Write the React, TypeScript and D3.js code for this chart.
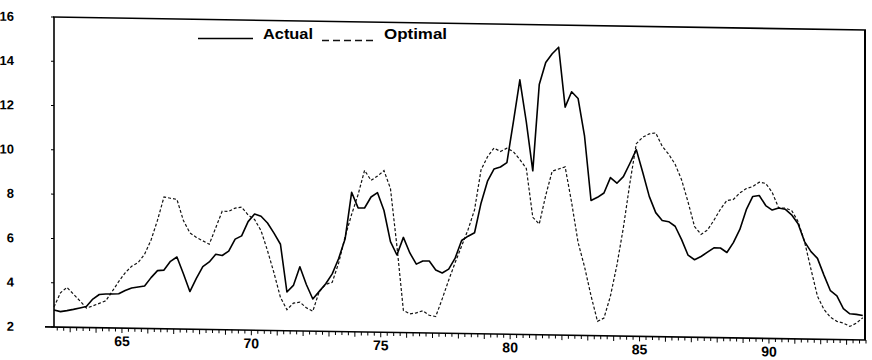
import React from 'react';
import * as d3 from 'd3';

const START_YEAR = 62.375;
const STEP = 0.25;

const actual = [
  2.77, 2.70, 2.75, 2.81, 2.88, 2.95, 3.29, 3.50, 3.53, 3.53,
  3.55, 3.70, 3.82, 3.87, 3.92, 4.30, 4.62, 4.65, 5.05, 5.25,
  4.50, 3.70, 4.30, 4.83, 5.05, 5.40, 5.35, 5.55, 6.10, 6.25,
  6.90, 7.25, 7.15, 6.85, 6.40, 5.90, 3.75, 4.05, 4.90, 4.10,
  3.45, 3.80, 4.15, 4.60, 5.30, 6.20, 8.30, 7.60, 7.60, 8.10,
  8.30, 7.50, 6.10, 5.50, 6.30, 5.60, 5.10, 5.25, 5.25, 4.85,
  4.72, 4.90, 5.40, 6.20, 6.40, 6.56, 7.90, 8.90, 9.45, 9.55,
  9.75, 11.6, 13.5, 11.6, 9.40, 13.3, 14.3, 14.7, 15.0, 12.3,
  13.0, 12.7, 11.0, 8.10, 8.25, 8.45, 9.15, 8.90, 9.20, 9.80,
  10.43, 9.40, 8.33, 7.60, 7.25, 7.20, 7.00, 6.40, 5.70, 5.50,
  5.65, 5.85, 6.05, 6.05, 5.85, 6.30, 6.90, 7.80, 8.40, 8.45,
  8.00, 7.80, 7.90, 7.85, 7.60, 7.20, 6.40, 5.95, 5.65, 4.90,
  4.20, 3.97, 3.40, 3.17, 3.15, 3.10,
];

const optimal = [
  2.90, 3.55, 3.80, 3.50, 3.20, 2.88, 2.98, 3.10, 3.22, 3.65,
  4.10, 4.50, 4.80, 4.97, 5.35, 6.00, 6.90, 7.95, 7.90, 7.85,
  6.90, 6.35, 6.15, 6.00, 5.85, 6.60, 7.35, 7.35, 7.50, 7.55,
  7.20, 7.00, 6.50, 5.60, 4.60, 3.50, 2.95, 3.25, 3.30, 3.05,
  2.90, 3.80, 4.12, 4.22, 5.10, 6.30, 7.30, 8.20, 9.30, 8.85,
  9.05, 9.30, 8.50, 5.90, 3.00, 2.85, 2.90, 3.00, 2.80, 2.75,
  3.55, 4.40, 5.20, 5.95, 6.70, 7.60, 9.40, 10.0, 10.4, 10.25,
  10.4, 10.25, 9.90, 9.50, 7.30, 7.00, 8.30, 9.40, 9.50, 9.60,
  8.00, 6.20, 5.10, 3.80, 2.65, 2.80, 3.80, 5.20, 6.90, 8.90,
  10.7, 11.0, 11.15, 11.2, 10.6, 10.25, 9.80, 9.10, 8.10, 7.00,
  6.65, 6.85, 7.30, 7.80, 8.20, 8.25, 8.55, 8.75, 8.85, 9.05,
  9.00, 8.60, 7.90, 7.90, 7.80, 7.30, 6.40, 5.15, 3.94, 3.35,
  3.00, 2.82, 2.75, 2.60, 2.75, 3.00,
];

const yTicks = [2, 4, 6, 8, 10, 12, 14, 16];
const xTickLabels = [65, 70, 75, 80, 85, 90];
const seriesNames = ['Actual', 'Optimal'];

export default function App() {
  const W = 872;
  const H = 360;
  const left = 54, right = 865, top = 17, bottom = 327;
  const x = d3.scaleLinear().domain([62.375, 93.75]).range([left, 866]);
  const y = d3.scaleLinear().domain([2, 16]).range([bottom, top]);
  const line = d3
    .line<number>()
    .x((_, i) => x(START_YEAR + i * STEP))
    .y((d) => y(d))
    .curve(d3.curveLinear);

  const sk = 0.016;
  const minorTicks = d3.range(250, 376).map((k) => k / 4);
  const font = "'Liberation Sans', Arial, sans-serif";

  return (
    <svg
      width={W}
      height={H}
      viewBox={`0 0 ${W} ${H}`}
      style={{ position: 'absolute', left: 0, top: 0, background: '#fff' }}
    >
      <rect x={0} y={0} width={W} height={H} fill="#fff" />
      <g transform={`matrix(1, ${sk}, 0, 1, 0, ${-left * sk})`}>
        {/* frame */}
        <line x1={left - 1} x2={right + 1} y1={top} y2={top} stroke="#000" strokeWidth={1.6} />
        <line x1={right} x2={right} y1={top} y2={bottom} stroke="#000" strokeWidth={2} />
        <line x1={left} x2={left} y1={top} y2={bottom} stroke="#000" strokeWidth={1.6} />
        <line x1={left - 9} x2={right + 1} y1={bottom} y2={bottom} stroke="#000" strokeWidth={1.6} />

        {/* x ticks */}
        {minorTicks.map((t) => (
          <line
            key={t}
            x1={x(t)}
            x2={x(t)}
            y1={bottom}
            y2={bottom + (t % 1 === 0 ? 5 : 3.5)}
            stroke="#000"
            strokeWidth={1}
          />
        ))}
        {xTickLabels.map((v) => (
          <text
            key={v}
            x={x(v)}
            y={bottom + 18}
            textAnchor="middle"
            fontFamily={font}
            fontWeight="bold"
            fontSize={14}
            fill="#000"
          >
            {v}
          </text>
        ))}

        {/* y ticks */}
        {yTicks.map((v) => (
          <g key={v}>
            <line x1={left - 3} x2={left} y1={y(v)} y2={y(v)} stroke="#000" strokeWidth={1} />
            <text
              x={14}
              y={y(v) + 4.5}
              textAnchor="end"
              fontFamily={font}
              fontWeight="bold"
              fontSize={13}
              fill="#000"
            >
              {v}
            </text>
          </g>
        ))}

        {/* series */}
        <path d={line(optimal) || ''} fill="none" stroke="#111" strokeWidth={1.2} strokeDasharray="3,2" />
        <path d={line(actual) || ''} fill="none" stroke="#000" strokeWidth={1.6} strokeLinejoin="round" />
      </g>

      {/* legend */}
      <line x1={198} x2={253} y1={38.5} y2={38.5} stroke="#000" strokeWidth={1.6} />
      <text x={263} y={38.5} fontFamily={font} fontWeight="bold" fontSize={14} textLength={50} lengthAdjust="spacingAndGlyphs" fill="#000">
        {seriesNames[0]}
      </text>
      <line x1={322} x2={377} y1={40.5} y2={40.5} stroke="#111" strokeWidth={1.3} strokeDasharray="7,4" />
      <text x={384} y={38.5} fontFamily={font} fontWeight="bold" fontSize={14} textLength={63} lengthAdjust="spacingAndGlyphs" fill="#000">
        {seriesNames[1]}
      </text>
    </svg>
  );
}
